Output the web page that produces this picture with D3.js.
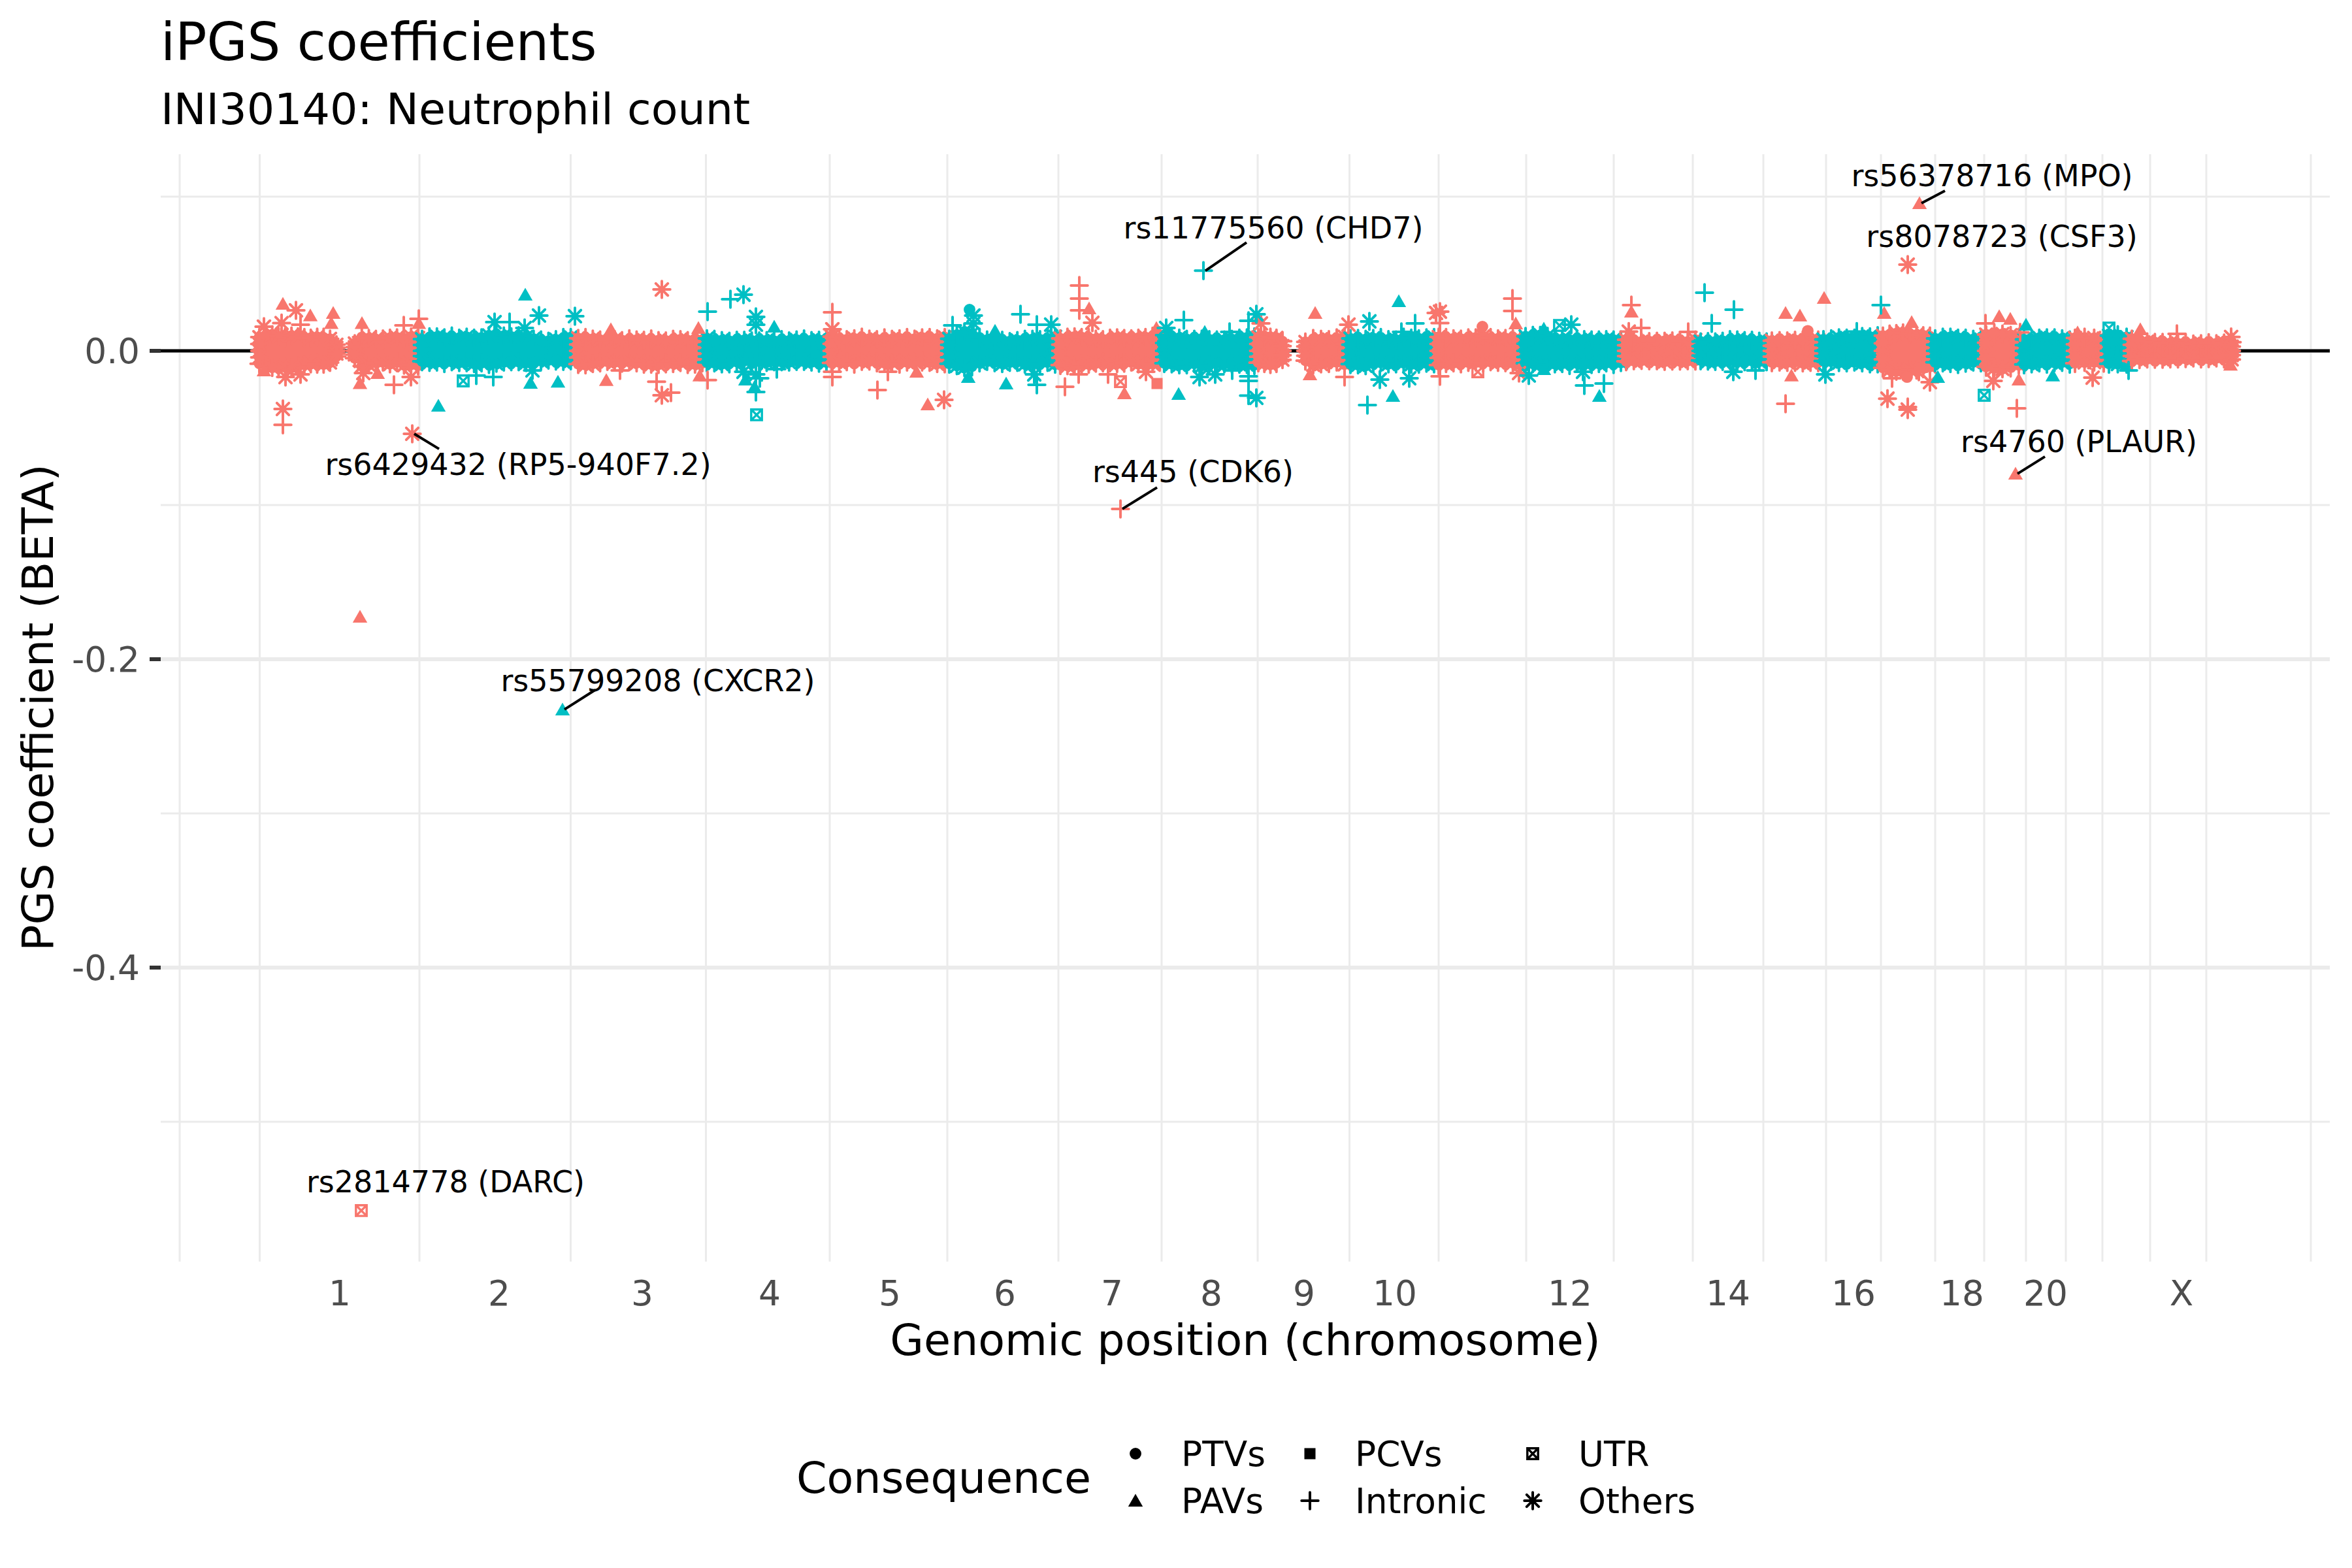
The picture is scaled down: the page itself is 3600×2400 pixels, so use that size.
<!DOCTYPE html>
<html><head><meta charset="utf-8">
<script src="https://cdn.jsdelivr.net/npm/d3@7"></script>
<style>html,body{margin:0;padding:0;background:#fff}svg{display:block}text{font-family:"DejaVu Sans",sans-serif}</style>
</head><body><svg id="c" width="3600" height="2400"></svg>
<script>
const tickPos=[135,379,598,793,977,1153,1317,1469,1611,1750,1884,2018,2152,2260,2368,2452,2536,2618,2686,2746,2808,2858,2954,3030];
const tickLabels=['1','2','3','4','5','6','7','8','9','10','','12','','14','','16','','18','','20','','','X',''];
const outerGrid=[-110,3152];
const yMajor=[0,-0.2,-0.4];
const yMinor=[0.1,-0.1,-0.3,-0.5];
const consequences=[['PTVs','circle'],['PAVs','tri'],['PCVs','sq'],['Intronic','plus'],['UTR','utr'],['Others','ast']];
// band envelope: [chromosome, first pos, last pos, upper (1e-4 BETA), lower (1e-4 BETA)]
const arms=[
[1,12,130,[89,102,106,94,86,98,92,84,84,90,86,78,40],[84,99,109,114,106,110,102,90,86,84,88,76,36]],
[1,158,255,[48,89,82,76,74,84,86,80,92,84],[48,99,92,78,74,86,74,94,90,96]],
[2,261,500,[76,88,92,86,94,84,90,80,86,100,104,98,92,96,90,78,68,64,74,84,88,80],[68,76,74,80,72,78,74,84,80,86,82,74,68,72,78,76,66,62,64,70,66,64]],
[3,500,690,[82,84,78,72,70,74,68,76,72,70,74,68,66,72,74,68,76,72],[86,92,84,76,70,74,78,72,80,84,88,90,82,84,78,86,88,80]],
[4,697,880,[80,72,68,64,66,70,66,62,68,64,70,66,72,74,68,70,74],[74,80,86,82,72,66,74,70,76,68,72,74,66,70,74,78,76]],
[5,888,1061,[92,76,74,80,86,78,74,82,76,80,84,78,86,84,80,88],[78,74,72,84,70,68,76,80,78,84,74,72,70,76,84,82]],
[6,1068,1230,[78,104,124,112,86,72,64,66,62,68,72,76,74,80,92],[84,98,110,102,80,70,74,84,76,72,88,84,82,76,88]],
[7,1238,1390,[80,86,92,88,84,78,74,80,86,82,76,84,88,92,100],[92,98,94,86,88,82,76,80,84,78,74,86,80,84,76]],
[8,1397,1535,[102,92,84,76,72,78,74,68,72,76,80,86,92],[80,86,92,88,84,98,94,80,86,84,88,90,92]],
[9,1541,1578,[88,96,90,84,62],[76,84,90,80,58]],
[9,1613,1673,[58,78,76,74,82,92],[64,92,86,80,74,88]],
[10,1682,1810,[80,78,76,82,84,74,72,86,84,80,82,88],[86,92,98,84,78,86,82,80,88,84,82,86]],
[11,1817,1942,[90,84,80,78,82,86,94,84,80,82,76,78],[92,84,80,82,76,74,78,72,76,74,80,84]],
[12,1950,2096,[94,98,102,96,84,76,72,70,74,72,68,74,72,68],[80,84,88,90,86,84,92,82,80,86,84,80,86,78]],
[13,2104,2210,[72,64,60,62,60,64,66,62,60,72],[68,66,64,62,66,70,64,68,66,64]],
[14,2218,2319,[60,58,60,64,70,72,68,66,64,60],[62,68,70,66,64,72,68,66,70,68]],
[15,2327,2398,[66,64,66,70,68,66,72],[74,74,76,72,80,76,74]],
[16,2406,2489,[74,76,86,84,80,94,92,96],[66,70,78,76,74,80,82,86]],
[17,2497,2569,[98,106,114,118,112,104,100,94],[110,124,134,130,122,126,114,104]],
[18,2577,2647,[80,86,90,84,80,76,74],[74,80,84,86,82,74,76]],
[19,2655,2705,[106,114,110,102,86],[104,114,118,108,94]],
[20,2713,2783,[74,76,84,86,82,80,72],[88,86,80,84,78,76,84]],
[21,2791,2835,[84,86,84,80],[80,76,74,78]],
[22,2843,2870,[98,102,90],[84,86,88]],
[23,2878,3031,[78,72,60,56,52,50,48,52,46,48,50,48,52,56],[66,58,54,52,56,54,50,52,48,50,52,48,50,56]]
];
const oddHits=[
[48,.0305,'tri'],[68,.0263,'ast'],[75,.017,'plus'],[90,.023,'tri'],[125,.0246,'tri'],[122,.018,'tri'],[19,.0157,'ast'],[46,.018,'ast'],[169,.018,'tri'],[256,.0208,'plus'],[233,.0165,'plus'],[256,.018,'tri'],[52,-.017,'ast'],[75,-.0153,'ast'],[19,-.0127,'tri'],[171,-.0144,'ast'],[193,-.0144,'tri'],[166,-.021,'tri'],[218,-.022,'plus'],[244,-.017,'ast'],[48,-.0377,'ast'],[48,-.048,'plus'],[246,-.0538,'ast'],[166,-.1725,'tri'],[168,-.5576,'utr'],
[628,.0398,'ast'],[550,.014,'tri'],[684,.0148,'tri'],[543,-.019,'tri'],[564,-.0127,'plus'],[620,-.02,'plus'],[628,-.0288,'ast'],[642,-.0271,'plus'],[686,-.016,'tri'],[698,-.019,'plus'],
[889,.025,'plus'],[889,.014,'ast'],[889,-.0136,'plus'],[889,-.017,'plus'],[958,-.0254,'plus'],[974,-.0136,'plus'],[1035,-.0347,'tri'],[1060,-.0318,'ast'],[1018,-.0136,'tri'],
[1267,.0424,'plus'],[1267,.0339,'plus'],[1267,.0263,'plus'],[1282,.0275,'tri'],[1287,.0182,'ast'],[1245,-.0233,'plus'],[1336,-.0275,'tri'],[1330,-.02,'utr'],[1386,-.0212,'sq'],[1266,-.0153,'plus'],[1311,-.0153,'plus'],[1369,-.0136,'ast'],[1385,.0148,'tri'],[1330,-.1025,'plus'],
[1542,.0212,'tri'],[1545,.0178,'ast'],[1628,.0246,'tri'],[1679,.017,'ast'],[1620,-.0153,'tri'],[1673,-.017,'plus'],
[1813,.0246,'ast'],[1819,.0254,'ast'],[1819,.018,'plus'],[1884,.0157,'circle'],[1930,.0339,'plus'],[1930,.0258,'plus'],[1935,.0178,'tri'],[1877,-.0136,'utr'],[1940,-.0144,'ast'],[1819,-.0165,'plus'],
[2112,.0297,'plus'],[2112,.0254,'tri'],[2127,.0148,'plus'],[2108,.0125,'ast'],[2199,.0123,'plus'],
[2348,.0246,'tri'],[2370,.0229,'tri'],[2407,.0343,'tri'],[2357,-.016,'tri'],[2348,-.0343,'plus'],[2382,.013,'circle'],
[2535,.0559,'ast'],[2553,.0958,'tri'],[2504,-.031,'ast'],[2535,-.0364,'plus'],[2535,-.0381,'ast'],[2511,-.0178,'plus'],[2569,-.0203,'ast'],[2552,-.0136,'plus'],[2534,-.017,'circle'],[2541,.0186,'tri'],[2499,.0246,'tri'],
[2654,.0178,'plus'],[2675,.0225,'tri'],[2692,.0208,'tri'],[2707,.012,'plus'],[2666,-.0195,'ast'],[2705,-.0186,'tri'],[2702,-.0373,'plus'],[2700,-.0797,'tri'],
[2818,-.0174,'ast'],[2795,.012,'tri'],[2891,.014,'tri'],[2947,.011,'plus'],[3030,.009,'ast'],[3029,-.009,'tri']
];
const evenHits=[
[419,.0364,'tri'],[440,.0229,'ast'],[495,.0225,'ast'],[372,.0186,'ast'],[395,.0186,'plus'],[418,.0148,'ast'],[286,-.0356,'tri'],[324,-.0195,'utr'],[344,-.016,'plus'],[370,-.017,'plus'],[427,-.0208,'tri'],[430,-.0127,'ast'],[469,-.02,'tri'],[476,-.2326,'tri'],
[698,.0254,'plus'],[733,.0335,'plus'],[753,.0364,'ast'],[772,.022,'ast'],[772,.017,'ast'],[800,.0157,'tri'],[753,-.0136,'ast'],[772,-.0153,'ast'],[778,-.0178,'plus'],[756,-.0186,'tri'],[770,-.0233,'tri'],[772,-.0267,'plus'],[773,-.0415,'utr'],[804,-.0119,'plus'],
[1099,.0267,'circle'],[1105,.0229,'ast'],[1105,.0178,'ast'],[1097,-.017,'tri'],[1155,-.0212,'tri'],[1202,-.022,'plus'],[1138,.013,'tri'],[1177,.0237,'plus'],[1202,.017,'plus'],[1224,.017,'ast'],[1198,-.0153,'ast'],[1073,.0165,'plus'],
[1457,.052,'plus'],[1427,.0199,'plus'],[1400,.0148,'ast'],[1459,.0123,'tri'],[1497,.0123,'plus'],[1419,-.028,'tri'],[1451,-.017,'ast'],[1475,-.0153,'ast'],[1526,-.0195,'plus'],[1526,-.0165,'plus'],[1526,-.029,'plus'],[1538,-.0305,'ast'],[1501,-.0127,'plus'],[1538,.0237,'ast'],[1526,.0195,'plus'],
[1711,.0191,'ast'],[1756,.0322,'tri'],[1781,.0178,'plus'],[1760,.0123,'plus'],[1708,-.0352,'plus'],[1747,-.0292,'tri'],[1727,-.0186,'ast'],[1772,-.0178,'ast'],
[1955,-.016,'ast'],[1978,.0144,'tri'],[1978,-.0119,'tri'],[2002,.0165,'utr'],[2020,.017,'ast'],[2038,-.0136,'ast'],[2040,-.0225,'plus'],[2070,-.0212,'plus'],[2063,-.0292,'tri'],
[2224,.0377,'plus'],[2269,.0267,'plus'],[2235,.0178,'plus'],[2268,-.0136,'ast'],[2302,-.0127,'plus'],
[2494,.0297,'plus'],[2457,.0125,'plus'],[2409,-.0153,'ast'],[2581,-.017,'tri'],
[2716,.017,'tri'],[2652,-.0288,'utr'],[2757,-.016,'tri'],[2843,.0148,'utr'],[2873,-.0127,'plus']
];
// [label, hit pos, hit beta, label pos, label beta, segment end pos, segment end beta]
const annotations=[
['rs6429432 (RP5-940F7.2)',246,-.0538,408,-.0737,287,-.0636],
['rs11775560 (CHD7)',1457,.052,1564,.0797,1523,.0703],
['rs445 (CDK6)',1330,-.1025,1441,-.0784,1386,-.0886],
['rs56378716 (MPO)',2553,.0958,2664,.1136,2592,.1038],
['rs8078723 (CSF3)',2535,.0559,2679,.0742,null,null],
['rs4760 (PLAUR)',2700,-.0797,2797,-.0588,2745,-.0686],
['rs55799208 (CXCR2)',476,-.2326,622,-.214,526,-.2199],
['rs2814778 (DARC)',168,-.5576,297,-.5389,null,null]
];
const SALMON='#F8766D',TEAL='#00BFC4';
const svg=d3.select('#c');
const P={l:246,r:3566,t:236,b:1931};
const x=d3.scaleLinear().domain([-139,3181]).range([P.l,P.r]);
const y=d3.scaleLinear().domain([0,-0.2]).range([537,1009]);
const lineSym=f=>({draw(c,s){f(c,Math.sqrt(s)/2)}});
const types={
 circle:d3.symbolCircle,
 sq:{draw(c,s){const r=Math.sqrt(s)/2;c.rect(-r,-r,2*r,2*r)}},
 tri:{draw(c,s){const r=Math.sqrt(s)/2;c.moveTo(0,-r*1.05);c.lineTo(r*1.12,r*.9);c.lineTo(-r*1.12,r*.9);c.closePath()}},
 plus:lineSym((c,r)=>{c.moveTo(-r,0);c.lineTo(r,0);c.moveTo(0,-r);c.lineTo(0,r)}),
 ast:lineSym((c,r)=>{const a=r*.72;c.moveTo(-r,0);c.lineTo(r,0);c.moveTo(0,-r);c.lineTo(0,r);c.moveTo(-a,-a);c.lineTo(a,a);c.moveTo(-a,a);c.lineTo(a,-a)}),
 utr:lineSym((c,r)=>{c.rect(-r,-r,2*r,2*r);c.moveTo(-r,-r);c.lineTo(r,r);c.moveTo(-r,r);c.lineTo(r,-r)})
};
const sizes={circle:250,sq:290,tri:400,plus:650,ast:650,utr:270};
const stroked=s=>s==='plus'||s==='ast'||s==='utr';
const sym=(k,s)=>d3.symbol().type(types[k]).size(s||sizes[k])();
function mark(g,k,px,py,col,s){
 g.append('path').attr('d',sym(k,s)).attr('transform',`translate(${px},${py})`)
  .attr('fill',stroked(k)?'none':col).attr('stroke',stroked(k)?col:'none').attr('stroke-width',k==='utr'?3.4:4)
  .attr('stroke-linecap','round');
}
// grid
const grid=svg.append('g').attr('stroke','#EBEBEB').attr('fill','none');
const minorX=[outerGrid[0],(outerGrid[0]+tickPos[0])/2,...d3.pairs(tickPos,(a,b)=>(a+b)/2),outerGrid[1]];
minorX.forEach(v=>grid.append('line').attr('x1',x(v)).attr('x2',x(v)).attr('y1',P.t).attr('y2',P.b).attr('stroke-width',3));
yMinor.forEach(v=>grid.append('line').attr('x1',P.l).attr('x2',P.r).attr('y1',y(v)).attr('y2',y(v)).attr('stroke-width',3));
yMajor.forEach(v=>grid.append('line').attr('x1',P.l).attr('x2',P.r).attr('y1',y(v)).attr('y2',y(v)).attr('stroke-width',6));
// zero line
svg.append('line').attr('x1',P.l).attr('x2',P.r).attr('y1',y(0)).attr('y2',y(0)).attr('stroke','#000').attr('stroke-width',5);
// bands
const bandG=svg.append('g');
arms.forEach(([chr,a,b,up,lo])=>{
 const col=chr%2?SALMON:TEAL;
 const g=bandG.append('g');
 const px=d3.scaleLinear().domain([0,up.length-1]).range([x(a),x(b)]);
 const rows=up.map((u,i)=>({i,u:u/1e4,l:-lo[i]/1e4}));
 g.append('path').datum(rows).attr('fill',col)
  .attr('d',d3.area().x(d=>px(d.i)).y0(d=>y(d.l)).y1(d=>y(d.u)));
 rows.forEach(d=>{
  mark(g,'circle',px(d.i),y(d.u),col,220);
  mark(g,'circle',px(d.i),y(d.l),col,220);
  mark(g,d.i%3===1?'plus':'ast',px(d.i),y(d.u),col,d.i%3===1?720:620);
  mark(g,d.i%3===0?'plus':'ast',px(d.i),y(d.l),col,d.i%3===0?720:620);
  if(d.i===0||d.i===rows.length-1){
   [0,d.u/2,d.l/2].forEach(v=>{mark(g,'circle',px(d.i),y(v),col,220);mark(g,'ast',px(d.i),y(v),col,620);});
  }
 });
});
// hits
const hitG=svg.append('g');
oddHits.forEach(([p,b,k])=>mark(hitG,k,x(p),y(b),SALMON));
evenHits.forEach(([p,b,k])=>mark(hitG,k,x(p),y(b),TEAL));
// annotations
annotations.forEach(([t,hp,hb,lp,lb,ep,eb])=>{
 if(ep!==null)svg.append('line').attr('x1',x(hp)+3).attr('y1',y(hb)).attr('x2',x(ep)).attr('y2',y(eb)).attr('stroke','#000').attr('stroke-width',4);
 svg.append('text').attr('x',x(lp)).attr('y',y(lb)).attr('text-anchor','middle').attr('dominant-baseline','central').attr('font-size',46).attr('fill','#000').text(t);
});
// axes
tickPos.forEach((p,i)=>{ if(tickLabels[i]) svg.append('text').attr('x',x(p)).attr('y',1998).attr('text-anchor','middle').attr('font-size',53.3).attr('fill','#4D4D4D').text(tickLabels[i]);});
yMajor.forEach(v=>{
 svg.append('text').attr('x',214).attr('y',y(v)+19).attr('text-anchor','end').attr('font-size',53.3).attr('fill','#4D4D4D').text(d3.format('.1f')(v).replace('−','-'));
 svg.append('line').attr('x1',229).attr('x2',P.l).attr('y1',y(v)).attr('y2',y(v)).attr('stroke','#333').attr('stroke-width',6);
});
svg.append('text').attr('x',1906).attr('y',2074).attr('text-anchor','middle').attr('font-size',66.7).text('Genomic position (chromosome)');
svg.append('text').attr('transform','translate(81,1083) rotate(-90)').attr('text-anchor','middle').attr('font-size',66.7).text('PGS coefficient (BETA)');
svg.append('text').attr('x',246).attr('y',92).attr('font-size',80).text('iPGS coefficients');
svg.append('text').attr('x',246).attr('y',190).attr('font-size',66.7).text('INI30140: Neutrophil count');
// legend
svg.append('text').attr('x',1219).attr('y',2285).attr('font-size',66.7).text('Consequence');
const colK=[1738,2005,2346],colT=[1808,2074,2416],rowY=[2225,2297];
consequences.forEach(([t,k],i)=>{
 const c=Math.floor(i/2),r=i%2;
 mark(svg,k,colK[c],rowY[r],'#000');
 svg.append('text').attr('x',colT[c]).attr('y',rowY[r]+19).attr('font-size',53.3).text(t);
});
</script></body></html>
